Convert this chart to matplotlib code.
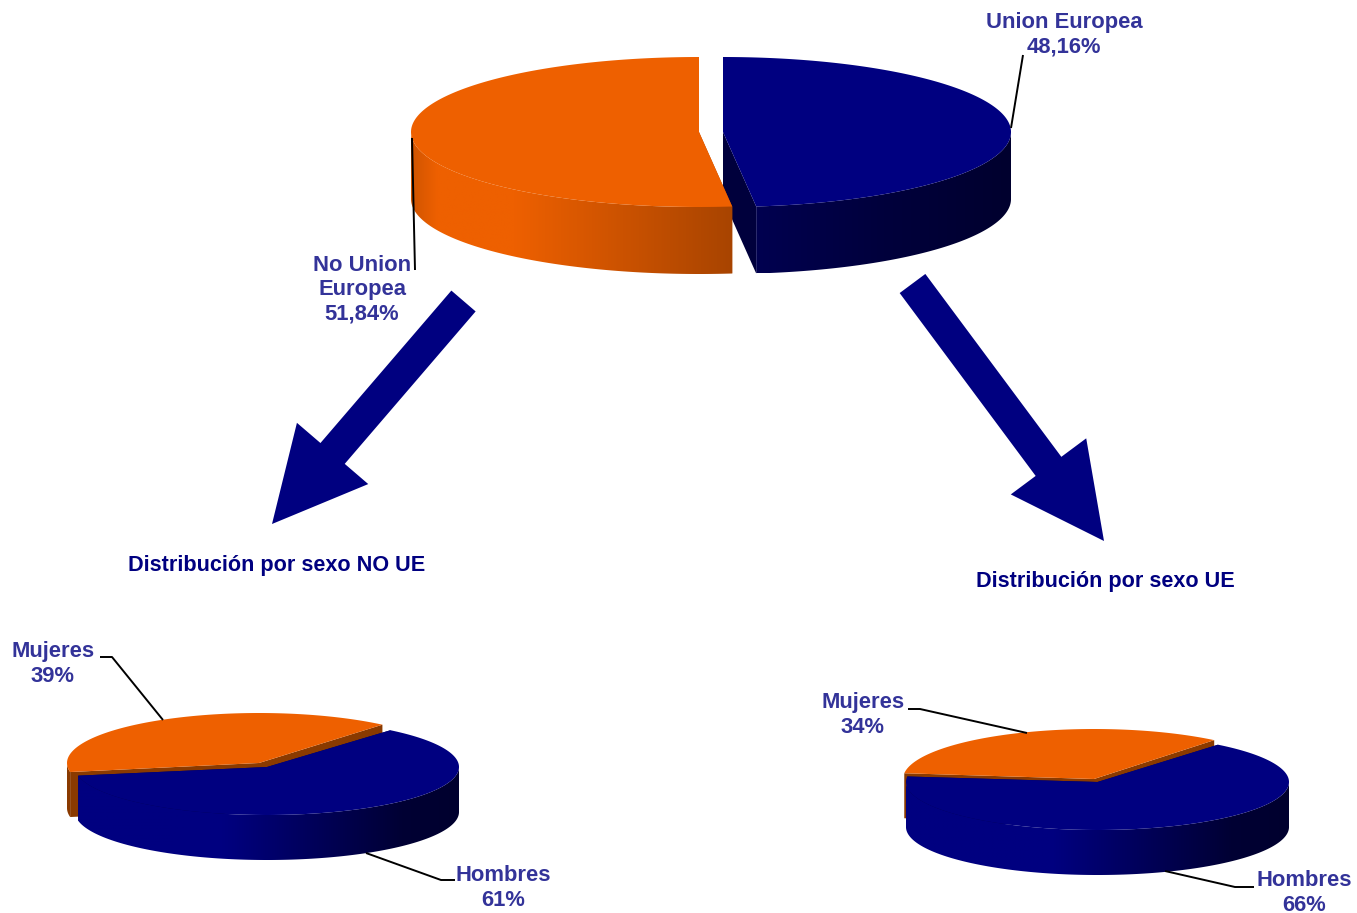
import numpy as np
import matplotlib
matplotlib.use("Agg")
import matplotlib.pyplot as plt
from matplotlib.colors import LinearSegmentedColormap
from matplotlib.patches import FancyArrow, Polygon

plt.rcParams['font.family'] = ['Liberation Sans', 'DejaVu Sans']

# values
top_labels = ["No Union\nEuropea", "Union Europea"]
top_values = [51.84, 48.16]
no_ue_labels = ["Mujeres", "Hombres"]
no_ue_values = [39, 61]
ue_labels = ["Mujeres", "Hombres"]
ue_values = [34, 66]

ORANGE = "#EE6000"
NAVY = "#000080"
LABEL = "#333399"

orange_big_wall = [(0, "#D05400"), (0.08, ORANGE), (0.32, ORANGE), (1, "#A84400")]
navy_big_wall = [(0, "#000050"), (0.5, "#00003C"), (1, "#00002E")]
navy_small_wall = [(0, NAVY), (0.38, NAVY), (0.85, "#000034"), (1, "#00002E")]
orange_small_wall = [(0, "#8A3A00"), (1, "#8A3A00")]


def rim(cx, cy, rx, ry, angle):
    a = np.radians(angle)
    return cx + rx * np.cos(a), cy - ry * np.sin(a)


def draw_slice(ax, cx, cy, rx, ry, depth, a0, a1, color, stops, face):
    # cut faces first, the top of the slice hides what it has to
    for ang in (a0, a1):
        x, y = rim(cx, cy, rx, ry, ang)
        ax.add_patch(Polygon([(cx, cy), (x, y), (x, y + depth), (cx, cy + depth)],
                             closed=True, fc=face, ec="none"))

    # outer wall, only the front half of the ellipse shows
    for k in (-360, 0):
        w0, w1 = max(a0, 180 + k), min(a1, 360 + k)
        if w1 <= w0:
            continue
        t = np.linspace(w0, w1, 200)
        xs, ys = rim(cx, cy, rx, ry, t)
        pts = np.r_[np.c_[xs, ys], np.c_[xs[::-1], ys[::-1] + depth]]
        wall = Polygon(pts, closed=True, fc="none", ec="none")
        ax.add_patch(wall)
        cmap = LinearSegmentedColormap.from_list("wall", stops)
        im = ax.imshow(np.linspace(0, 1, 256).reshape(1, -1), cmap=cmap, aspect="auto",
                       extent=[xs.min(), xs.max(), ys.max() + depth, ys.min()],
                       interpolation="bilinear", zorder=1)
        im.set_clip_path(wall)

    t = np.linspace(a0, a1, 300)
    xs, ys = rim(cx, cy, rx, ry, t)
    ax.add_patch(Polygon(np.r_[[(cx, cy)], np.c_[xs, ys]], closed=True, fc=color, ec="none", zorder=1))


def leader(ax, xs, ys):
    ax.plot(xs, ys, color="black", lw=1.4, solid_capstyle="butt", zorder=3)


def label(ax, x, y, s):
    ax.text(x, y, s, color=LABEL, fontsize=15.8, fontweight="bold", ha="center", va="center",
            linespacing=1.2, zorder=4)


fig = plt.figure(figsize=(13.57, 9.13), dpi=100)
ax = fig.add_axes([0, 0, 1, 1])

# pie de arriba: Union Europea detras, arranca en las 12 y va a la derecha
ue_sweep = top_values[1] * 3.6
draw_slice(ax, 723, 132, 288, 75, 67, 90 - ue_sweep, 90, NAVY, navy_big_wall, "#00003C")
draw_slice(ax, 699, 132, 288, 75, 67, 90, 90 + top_values[0] * 3.6, ORANGE, orange_big_wall, "#A84400")

# NO UE
start = 50
draw_slice(ax, 259, 763, 192, 50, 45, start, start + no_ue_values[0] * 3.6, ORANGE, orange_small_wall, "#8A3A00")
draw_slice(ax, 267, 767, 192, 48, 45, start + no_ue_values[0] * 3.6 - 360, start, NAVY, navy_small_wall, "#000050")

# UE
start = 51
draw_slice(ax, 1094, 779, 191, 50, 45, start, start + ue_values[0] * 3.6, ORANGE, orange_small_wall, "#8A3A00")
draw_slice(ax, 1097.5, 782, 191.5, 48, 45, start + ue_values[0] * 3.6 - 360, start, NAVY, navy_small_wall, "#000050")

# flechas
for tail, tip in [((463.5, 301), (272, 524)), ((912.5, 283.5), (1104, 541))]:
    ax.add_patch(FancyArrow(tail[0], tail[1], tip[0] - tail[0], tip[1] - tail[1], width=32,
                            head_width=94, head_length=93, length_includes_head=True,
                            fc=NAVY, ec="none", zorder=2))

leader(ax, [1011, 1023], [128, 55])
leader(ax, [412, 415], [138, 270])
leader(ax, [100, 112, 163], [657, 657, 720])
leader(ax, [366, 441, 455], [853, 880, 880])
leader(ax, [908, 920, 1027], [709, 709, 733])
leader(ax, [1165, 1235, 1254], [871, 887, 887])

label(ax, 1064, 35, f"{top_labels[1]}\n{top_values[1]:.2f}%".replace(".", ","))
label(ax, 362, 290, f"{top_labels[0]}\n{top_values[0]:.2f}%".replace(".", ","))
label(ax, 53, 664, f"{no_ue_labels[0]}\n{no_ue_values[0]}%")
label(ax, 503, 888, f"{no_ue_labels[1]}\n{no_ue_values[1]}%")
label(ax, 863, 715, f"{ue_labels[0]}\n{ue_values[0]}%")
label(ax, 1304, 893, f"{ue_labels[1]}\n{ue_values[1]}%")

ax.text(128, 566, "Distribución por sexo NO UE", color=NAVY, fontsize=15.6, fontweight="bold", va="center")
ax.text(976, 582, "Distribución por sexo UE", color=NAVY, fontsize=15.6, fontweight="bold", va="center")

ax.set_xlim(0, 1357)
ax.set_ylim(913, 0)
ax.axis("off")

fig.savefig("out.png", dpi=100)
